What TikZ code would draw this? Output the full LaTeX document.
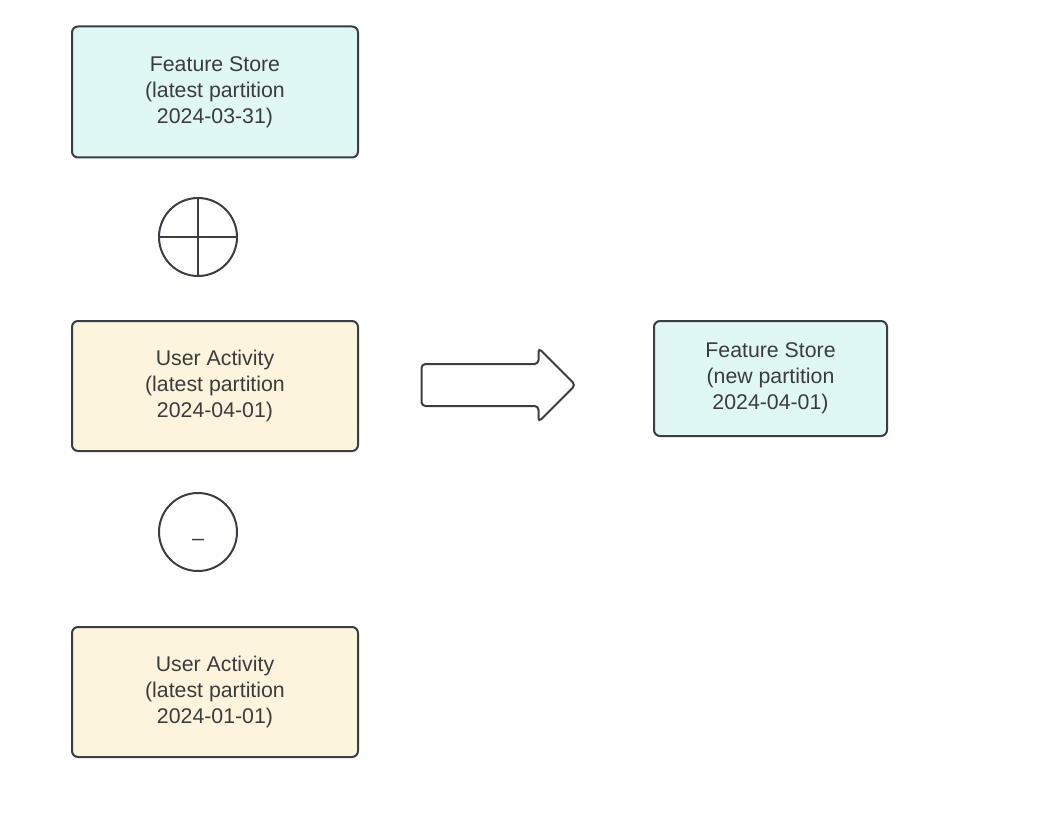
\documentclass[tikz,border=0pt]{standalone}
\usepackage{fontspec}
\setmainfont{Liberation Sans}
\usepackage{tikz}
\usepackage{xcolor}
\usetikzlibrary{shapes.arrows}
\definecolor{storefill}{HTML}{DFF7F5}
\definecolor{activityfill}{HTML}{FCF4DC}
\definecolor{edgegray}{HTML}{3A3E44}
\definecolor{textgray}{HTML}{3C3C3C}
\tikzset{%
  partbox/.style={draw=edgegray, line width=2pt, rounded corners=6pt,
    align=center, text=textgray, font=\fontsize{21.3}{26}\selectfont},
  storebox/.style={partbox, fill=storefill},
  activitybox/.style={partbox, fill=activityfill},
  opcircle/.style={draw=edgegray, line width=2pt, circle, minimum size=78pt, inner sep=0pt},
  bigarrow/.style={draw=edgegray, line width=2pt, shape=single arrow, rounded corners=4pt,
    minimum height=154pt, single arrow head extend=16pt, single arrow tip angle=90,
    inner xsep=0pt, inner ysep=20pt, text height=0pt, text depth=0pt}
}

\begin{document}
\begin{tikzpicture}[x=1pt,y=-1pt]
\useasboundingbox (0,0) rectangle (1054,826);
\node[storebox, minimum width=286pt, minimum height=131pt] (fsold) at (215,92)
  {Feature Store\\(latest partition\\2024-03-31)};
\node[opcircle] (plus) at (198,237) {};
\draw[edgegray, line width=2pt] (plus.north) -- (plus.south);
\draw[edgegray, line width=2pt] (plus.west) -- (plus.east);
\node[activitybox, minimum width=286pt, minimum height=130pt] (uanew) at (215,386)
  {User Activity\\(latest partition\\2024-04-01)};
\node[opcircle] (minus) at (198,532) {};
\node[text=textgray, font=\fontsize{21.3}{26}\selectfont] (minussign) at (198,542) {–};
\node[activitybox, minimum width=286pt, minimum height=130pt] (uaold) at (215,692)
  {User Activity\\(latest partition\\2024-01-01)};
\node[bigarrow] (result) at (488,385) {};
\node[storebox, minimum width=233pt, minimum height=115pt] (fsnew) at (770.5,378.5)
  {Feature Store\\(new partition\\2024-04-01)};
\end{tikzpicture}
\end{document}
